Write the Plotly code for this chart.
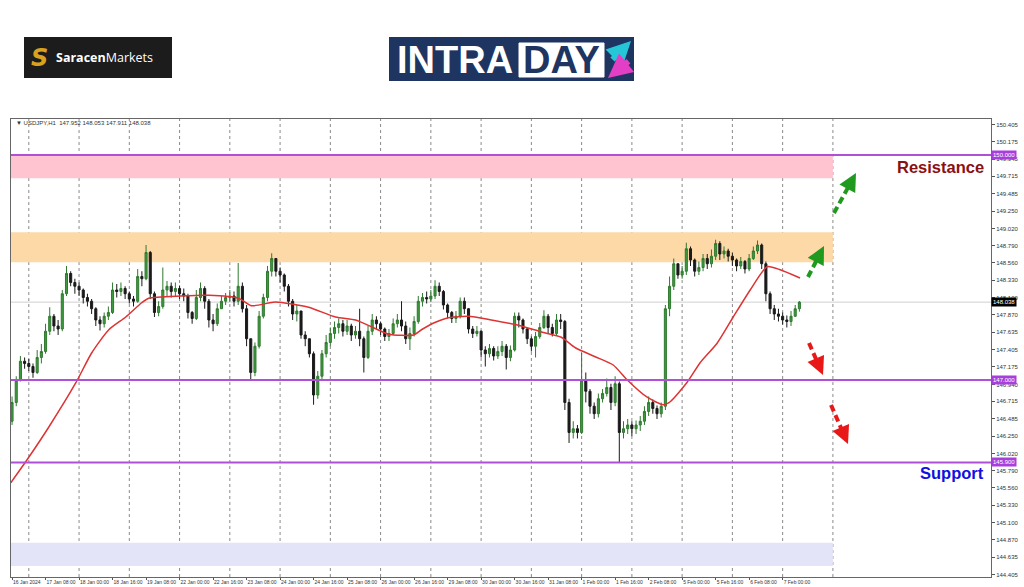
import plotly.graph_objects as go

# ---------------- data ----------------
# bar position in trading hours since 17 Jan 2024 00:00 (2-hour bars)
bar_hour = list(range(-8, 370, 2))
first_open = 146.45
close = [
    146.70, 147.00, 147.25, 147.22,
    147.18, 147.10, 147.30, 147.38, 147.65, 147.85, 147.72, 147.68, 148.15, 148.42,
    148.30, 148.25, 148.20, 148.10, 148.05, 147.95, 147.80, 147.75, 147.85, 147.90,
    148.20, 148.18, 148.22, 148.15, 148.08, 148.05, 148.38, 148.35, 148.70, 148.15,
    147.90, 147.98, 148.20, 148.25, 148.18, 148.22, 148.15, 148.12, 147.90, 147.82,
    148.10, 148.22, 148.05, 147.80, 147.75, 147.95, 148.05, 148.10, 148.12, 148.05,
    148.25, 147.95, 147.55, 147.10, 147.45, 147.85, 148.10, 148.45, 148.62, 148.45,
    148.40, 148.25, 148.05, 147.88, 147.92, 147.60, 147.55, 147.35, 146.80, 147.05,
    147.35, 147.50, 147.62, 147.70, 147.75, 147.65, 147.72, 147.60, 147.65, 147.55,
    147.30, 147.65, 147.80, 147.75, 147.68, 147.58, 147.62, 147.75, 147.80, 147.72,
    147.55, 147.62, 147.78, 148.05, 148.10, 148.08, 148.12, 148.25, 148.18, 148.00,
    147.90, 147.82, 147.85, 148.05, 147.95, 147.68, 147.62, 147.65, 147.40, 147.35,
    147.42, 147.32, 147.38, 147.45, 147.30, 147.40, 147.85, 147.80, 147.68, 147.55,
    147.45, 147.58, 147.70, 147.85, 147.70, 147.62, 147.80, 147.78, 146.70, 146.30,
    146.35, 146.30, 147.00, 146.85, 146.65, 146.55, 146.75, 146.82, 146.90, 146.70,
    146.95, 146.30, 146.35, 146.40, 146.35, 146.40, 146.45, 146.58, 146.70, 146.62,
    146.55, 146.65, 147.95, 148.25, 148.55, 148.40, 148.45, 148.75, 148.60, 148.45,
    148.50, 148.62, 148.55, 148.65, 148.82, 148.68, 148.72, 148.65, 148.60, 148.52,
    148.58, 148.48, 148.62, 148.72, 148.80, 148.55, 148.15, 147.95, 147.88, 147.85,
    147.80, 147.78, 147.85, 147.95, 148.038,
]
high = [
    146.78, 147.05, 147.32, 147.30,
    147.28, 147.22, 147.40, 147.48, 147.75, 147.97, 147.88, 147.80, 148.20, 148.52,
    148.45, 148.35, 148.30, 148.22, 148.15, 148.08, 147.97, 147.85, 147.90, 147.98,
    148.30, 148.28, 148.30, 148.25, 148.18, 148.12, 148.48, 148.45, 148.80, 148.72,
    148.18, 148.05, 148.50, 148.32, 148.30, 148.30, 148.26, 148.22, 148.15, 147.92,
    148.20, 148.30, 148.25, 148.08, 147.88, 148.02, 148.12, 148.16, 148.20, 148.18,
    148.56, 148.30, 148.00, 147.55, 147.50, 147.92, 148.15, 148.52, 148.69, 148.62,
    148.50, 148.42, 148.28, 148.08, 148.00, 147.92, 147.65, 147.55, 147.38, 147.12,
    147.40, 147.60, 147.70, 147.78, 147.82, 147.80, 147.80, 147.75, 147.72, 147.95,
    147.58, 147.72, 147.88, 147.85, 147.78, 147.70, 147.68, 147.82, 147.88, 148.05,
    147.78, 147.70, 147.85, 148.12, 148.16, 148.18, 148.20, 148.33, 148.30, 148.20,
    148.02, 147.92, 147.92, 148.10, 148.10, 147.96, 147.72, 147.72, 147.66, 147.45,
    147.48, 147.45, 147.45, 147.52, 147.48, 147.46, 147.90, 147.90, 147.82, 147.70,
    147.58, 147.64, 147.76, 147.93, 147.88, 147.75, 147.88, 147.88, 147.80, 146.75,
    146.45, 146.40, 147.36, 147.10, 146.88, 146.70, 146.82, 146.88, 147.02, 146.95,
    147.05, 146.98, 146.45, 146.48, 146.45, 146.46, 146.52, 146.65, 146.78, 146.74,
    146.66, 146.70, 148.00, 148.38, 148.62, 148.55, 148.52, 148.83, 148.78, 148.62,
    148.58, 148.68, 148.68, 148.74, 148.87, 148.85, 148.78, 148.75, 148.70, 148.62,
    148.64, 148.60, 148.68, 148.78, 148.86, 148.82, 148.58, 148.18, 148.00, 147.95,
    147.90, 147.86, 147.92, 148.00, 148.053,
]
low = [
    146.40, 146.65, 146.98, 147.15,
    147.12, 147.03, 147.08, 147.22, 147.35, 147.60, 147.65, 147.60, 147.65, 148.12,
    148.25, 148.15, 148.12, 148.02, 147.98, 147.88, 147.72, 147.66, 147.70, 147.80,
    147.88, 148.10, 148.12, 148.08, 148.02, 147.98, 148.03, 148.25, 148.33, 148.08,
    147.84, 147.85, 147.95, 148.12, 148.10, 148.12, 148.08, 148.05, 147.82, 147.75,
    147.80, 148.05, 147.95, 147.70, 147.65, 147.72, 147.95, 148.00, 148.04, 147.98,
    148.00, 147.90, 147.45, 147.00, 147.05, 147.42, 147.82, 148.05, 148.38, 148.38,
    148.30, 148.18, 147.98, 147.80, 147.78, 147.55, 147.45, 147.30, 146.67, 146.75,
    147.00, 147.30, 147.45, 147.55, 147.62, 147.58, 147.60, 147.52, 147.55, 147.45,
    147.10, 147.28, 147.60, 147.68, 147.60, 147.52, 147.52, 147.60, 147.70, 147.65,
    147.48, 147.40, 147.58, 147.75, 147.98, 148.02, 148.04, 148.08, 148.12, 147.94,
    147.82, 147.76, 147.76, 147.82, 147.88, 147.62, 147.56, 147.58, 147.30, 147.18,
    147.30, 147.26, 147.28, 147.32, 147.14, 147.25, 147.38, 147.70, 147.62, 147.48,
    147.38, 147.30, 147.55, 147.68, 147.62, 147.58, 147.60, 147.68, 146.60, 146.16,
    146.22, 146.22, 146.28, 146.70, 146.55, 146.48, 146.50, 146.70, 146.78, 146.60,
    146.65, 145.90, 146.22, 146.28, 146.25, 146.28, 146.32, 146.40, 146.52, 146.55,
    146.48, 146.50, 146.60, 147.85, 148.20, 148.35, 148.35, 148.40, 148.52, 148.38,
    148.40, 148.45, 148.48, 148.50, 148.60, 148.60, 148.62, 148.58, 148.52, 148.45,
    148.48, 148.42, 148.45, 148.60, 148.68, 148.48, 148.05, 147.88, 147.80, 147.78,
    147.74, 147.70, 147.72, 147.84, 147.911,
]
open_ = [first_open] + close[:-1]

# moving average (red line)
ma_hour = [-8.6, 0, 9.5, 22.4, 30, 38.2, 46.3, 53.9, 57.3, 72.5, 85.9, 100.2, 106.4,
           117.8, 133.6, 146.5, 156, 163.6, 171.8, 183.7, 187.5, 194.2, 200.4, 209.9,
           220.9, 233.8, 244.8, 254.3, 261, 270.5, 279.1, 285.8, 295.3, 303, 306.3,
           314.4, 320.6, 328.7, 336.4, 344.5, 352.6, 358.8, 368.3]
ma_value = [145.63, 145.97, 146.37, 146.96, 147.36, 147.67, 147.84, 148.03, 148.09,
            148.12, 148.13, 148.09, 147.99, 148.04, 147.97, 147.84, 147.80, 147.71,
            147.61, 147.60, 147.67, 147.77, 147.83, 147.85, 147.80, 147.73, 147.64,
            147.57, 147.43, 147.31, 147.20, 147.00, 146.77, 146.67, 146.71, 146.97,
            147.23, 147.49, 147.84, 148.20, 148.51, 148.47, 148.36]

day_separators = [0, 24, 48, 72, 96, 120, 144, 168, 192, 216, 240, 264, 288, 312, 336, 360, 384]
x_label_hour = [-8, 8, 24, 40, 56, 72, 88, 104, 120, 136, 152, 168, 184, 200, 216, 232,
                248, 264, 280, 296, 312, 328, 344, 360]
x_label_text = ["16 Jan 2024", "17 Jan 08:00", "18 Jan 00:00", "18 Jan 16:00", "19 Jan 08:00",
                "22 Jan 00:00", "22 Jan 16:00", "23 Jan 08:00", "24 Jan 00:00", "24 Jan 16:00",
                "25 Jan 08:00", "26 Jan 00:00", "26 Jan 16:00", "29 Jan 08:00", "30 Jan 00:00",
                "30 Jan 16:00", "31 Jan 08:00", "1 Feb 00:00", "1 Feb 16:00", "2 Feb 08:00",
                "5 Feb 00:00", "5 Feb 16:00", "6 Feb 08:00", "7 Feb 00:00"]
y_tick_values = [150.405, 150.175, 149.945, 149.715, 149.485, 149.250, 149.020, 148.790,
                 148.560, 148.330, 148.100, 147.870, 147.635, 147.405, 147.175, 146.940,
                 146.715, 146.485, 146.250, 146.020, 145.790, 145.560, 145.330, 145.100,
                 144.870, 144.635, 144.405]

level_lines = [150.000, 147.000, 145.900]
last_price = 148.038
zone_pink = (149.69, 150.00)
zone_orange = (148.57, 148.97)
zone_lavender = (144.52, 144.83)
zone_end_hour = 384

# ---------------- layout helpers ----------------
W, H = 1024, 587
PL, PR, PT, PB = 11, 991, 119, 577
X_RANGE = [-8.5, 459.5]
Y_RANGE = [144.373, 150.48]


def pxx(x):
    return (x - PL) / (PR - PL)


def pyy(y):
    return (PB - y) / (PB - PT)


def hour_at(px):
    return X_RANGE[0] + (px - PL) / (PR - PL) * (X_RANGE[1] - X_RANGE[0])


def price_at(py):
    return Y_RANGE[1] - (py - PT) / (PB - PT) * (Y_RANGE[1] - Y_RANGE[0])


fig = go.Figure()

fig.add_trace(go.Candlestick(
    x=bar_hour, open=open_, high=high, low=low, close=close,
    increasing=dict(line=dict(color="#2f7a2f", width=1), fillcolor="#3f9a3f"),
    decreasing=dict(line=dict(color="#1a1a1a", width=1), fillcolor="#1a1a1a"),
    whiskerwidth=0, hoverinfo="skip", showlegend=False,
))
fig.add_trace(go.Scatter(x=ma_hour, y=ma_value, mode="lines",
                         line=dict(color="#dd3333", width=1.5, shape="spline", smoothing=0.6),
                         hoverinfo="skip", showlegend=False))

shapes = []
# zones
for (lo, hi), col in [(zone_pink, "#ffc4d0"), (zone_orange, "#fdd9a8"), (zone_lavender, "#e4e4f8")]:
    shapes.append(dict(type="rect", xref="x", yref="y", x0=X_RANGE[0], x1=zone_end_hour,
                       y0=lo, y1=hi, fillcolor=col, line=dict(width=0), layer="below"))
# day separators
for d in day_separators:
    shapes.append(dict(type="line", xref="x", yref="paper", x0=d, x1=d, y0=0, y1=1,
                       line=dict(color="#8a8a8a", width=1, dash="dot"), layer="below"))
# current price line
shapes.append(dict(type="line", xref="paper", yref="y", x0=0, x1=1, y0=last_price, y1=last_price,
                   line=dict(color="#cfcfcf", width=1), layer="below"))
# level lines
for lv in level_lines:
    shapes.append(dict(type="line", xref="paper", yref="y", x0=0, x1=1, y0=lv, y1=lv,
                       line=dict(color="#b04fd8", width=2)))

annotations = []

# dashed arrows
arrows = [
    ((808, 277), (824, 246), "#1f9a1f"),
    ((834, 213), (856, 173), "#1f9a1f"),
    ((809, 343), (823, 375), "#e81818"),
    ((831, 405), (848, 444), "#e81818"),
]
for (sx, sy), (ex, ey), col in arrows:
    st, sp = hour_at(sx), price_at(sy)
    et, ep = hour_at(ex), price_at(ey)
    mt = st + (et - st) * 0.72
    mp = sp + (ep - sp) * 0.72
    shapes.append(dict(type="line", xref="x", yref="y", x0=st, y0=sp, x1=mt, y1=mp,
                       line=dict(color=col, width=4, dash="7px,4px")))
    annotations.append(dict(x=et, y=ep, ax=st + (et - st) * 0.6, ay=sp + (ep - sp) * 0.6,
                            xref="x", yref="y", axref="x", ayref="y", text="",
                            showarrow=True, arrowhead=2, arrowsize=0.9, arrowwidth=4,
                            arrowcolor=col, standoff=0))

# logos
shapes.append(dict(type="rect", xref="paper", yref="paper", x0=pxx(24), x1=pxx(172),
                   y0=pyy(78), y1=pyy(37), fillcolor="#1c1c1c", line=dict(width=0)))
shapes.append(dict(type="rect", xref="paper", yref="paper", x0=pxx(389), x1=pxx(634),
                   y0=pyy(81), y1=pyy(37), fillcolor="#1e3562", line=dict(width=0)))
shapes.append(dict(type="rect", xref="paper", yref="paper", x0=pxx(519), x1=pxx(604),
                   y0=pyy(77), y1=pyy(43), fillcolor="#ffffff", line=dict(color="#ffffff", width=1)))
annotations.append(dict(xref="paper", yref="paper", x=pxx(39), y=pyy(58), text="<b><i>S</i></b>",
                        showarrow=False, font=dict(family="DejaVu Sans", size=24, color="#d9a21e"),
                        xanchor="center", yanchor="middle"))
annotations.append(dict(xref="paper", yref="paper", x=pxx(54), y=pyy(58),
                        text="<b>Saracen</b>Markets", showarrow=False,
                        font=dict(family="Open Sans", size=12.5, color="#ffffff"),
                        xanchor="left", yanchor="middle"))
annotations.append(dict(xref="paper", yref="paper", x=pxx(395), y=pyy(60), text="<b>INTRA</b>",
                        showarrow=False, font=dict(family="Liberation Sans", size=38, color="#ffffff"),
                        xanchor="left", yanchor="middle"))
annotations.append(dict(xref="paper", yref="paper", x=pxx(561.5), y=pyy(60), text="<b>DAY</b>",
                        showarrow=False, font=dict(family="Liberation Sans", size=38, color="#1e3562"),
                        xanchor="center", yanchor="middle"))
annotations.append(dict(xref="paper", yref="paper", x=pxx(631), y=pyy(41), ax=-20, ay=20, text="",
                        showarrow=True, arrowhead=2, arrowsize=0.8, arrowwidth=6,
                        arrowcolor="#25c6d8", standoff=0))
annotations.append(dict(xref="paper", yref="paper", x=pxx(608), y=pyy(78), ax=22, ay=-18, text="",
                        showarrow=True, arrowhead=2, arrowsize=0.8, arrowwidth=6,
                        arrowcolor="#e23fc4", standoff=0))

# chart header text
annotations.append(dict(xref="paper", yref="paper", x=pxx(14), y=pyy(123),
                        text="\u25bc USDJPY,H1  147.952 148.053 147.911 148.038",
                        showarrow=False, font=dict(family="Liberation Sans", size=6, color="#333333"),
                        xanchor="left", yanchor="middle"))

# Resistance / Support labels
annotations.append(dict(xref="paper", yref="paper", x=pxx(986), y=pyy(167), text="<b>Resistance</b>",
                        showarrow=False, font=dict(family="Liberation Sans", size=16.5, color="#8b1010"),
                        xanchor="right", yanchor="middle"))
annotations.append(dict(xref="paper", yref="paper", x=pxx(986), y=pyy(473), text="<b>Support</b>",
                        showarrow=False, font=dict(family="Liberation Sans", size=16.5, color="#1010e0"),
                        xanchor="right", yanchor="middle"))

# price tags on the right axis
for lv in level_lines:
    annotations.append(dict(xref="paper", yref="y", x=1, y=lv, text=f"{lv:.3f}", showarrow=False,
                            xanchor="left", yanchor="middle", bgcolor="#a83fdc", borderpad=1,
                            font=dict(family="Liberation Sans", size=6, color="#ffffff")))
annotations.append(dict(xref="paper", yref="y", x=1, y=last_price, text=f"{last_price:.3f}",
                        showarrow=False, xanchor="left", yanchor="middle", bgcolor="#000000",
                        borderpad=1, font=dict(family="Liberation Sans", size=6, color="#ffffff")))

fig.update_layout(
    width=W, height=H,
    margin=dict(l=PL, r=W - PR, t=PT, b=H - PB, autoexpand=False),
    paper_bgcolor="#ffffff", plot_bgcolor="#ffffff",
    shapes=shapes, annotations=annotations, showlegend=False,
    xaxis=dict(range=X_RANGE, rangeslider=dict(visible=False), showgrid=False, zeroline=False,
               tickvals=x_label_hour, ticktext=x_label_text, ticks="outside", ticklen=2,
               tickcolor="#555555", ticklabelposition="outside right", tickangle=0,
               ticklabelstandoff=0,
               tickfont=dict(family="Liberation Sans Narrow, Liberation Sans", size=5,
                             color="#333333"),
               showline=True, linecolor="#666666", linewidth=1, mirror=True, automargin=False),
    yaxis=dict(range=Y_RANGE, side="right", showgrid=False, zeroline=False,
               tickvals=y_tick_values, ticktext=[f"{v:.3f}" for v in y_tick_values],
               ticks="outside", ticklen=3, tickcolor="#555555",
               tickfont=dict(family="Liberation Sans", size=6, color="#333333"),
               showline=True, linecolor="#666666", linewidth=1, mirror=True, automargin=False),
)

fig.write_html("out.html", config={"displayModeBar": False},
               post_script="document.body.style.margin='0';document.body.style.overflow='hidden';")
